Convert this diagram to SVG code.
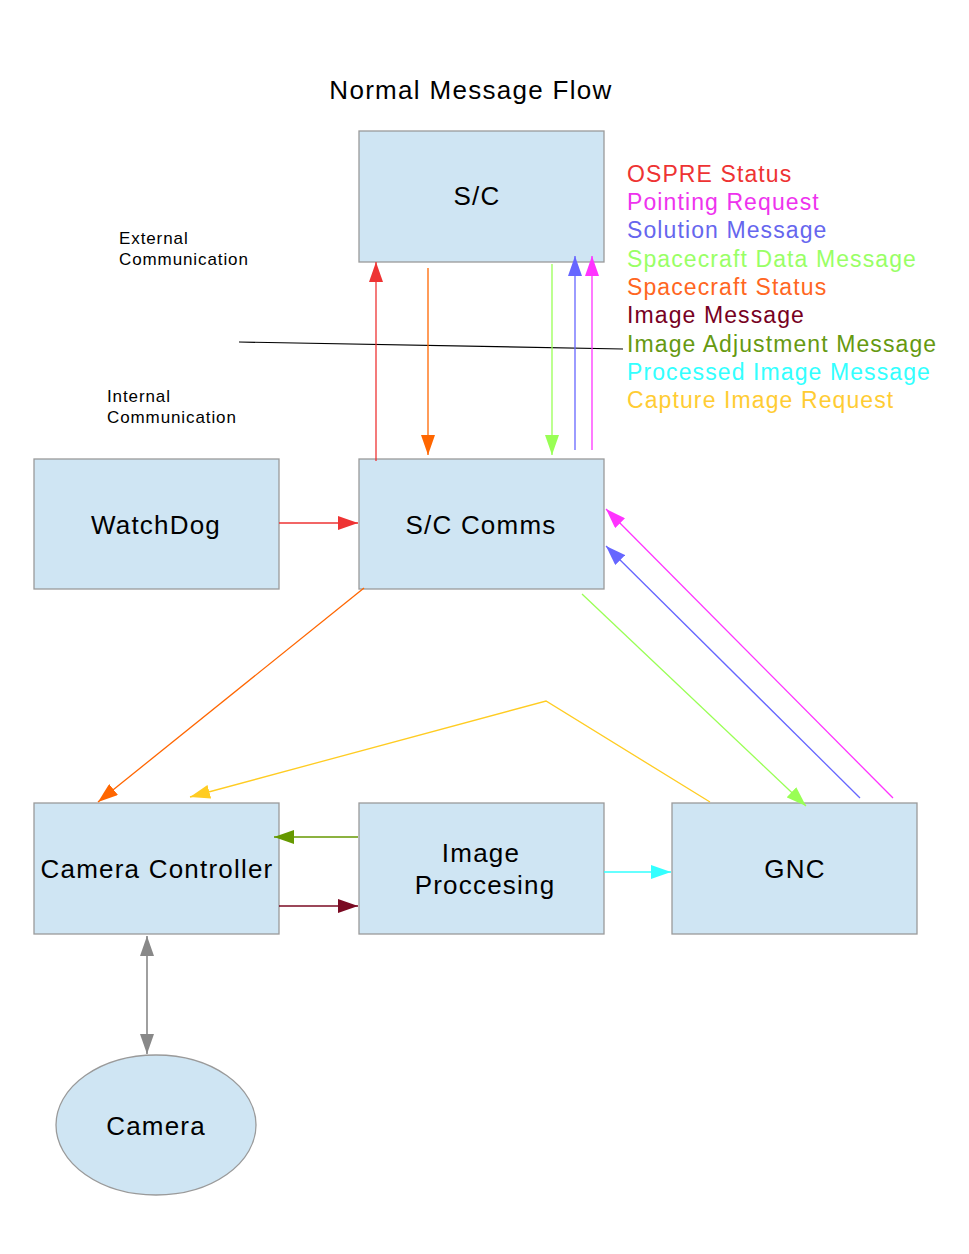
<svg xmlns="http://www.w3.org/2000/svg" width="969" height="1254" viewBox="0 0 969 1254">
<style>
text{font-family:"Liberation Sans",Arial,sans-serif;}
.box{fill:#cfe5f3;stroke:#9a9a9a;stroke-width:1.3;}
.lbl{font-size:26px;fill:#000;text-anchor:middle;letter-spacing:1.2px;}
.leg{font-size:23px;letter-spacing:1.1px;}
.note{font-size:17px;fill:#000;letter-spacing:0.9px;}
.c{fill:none;stroke-width:1.3;}
</style>
<defs>
<marker id="aRed" viewBox="0 0 20 14" refX="20" refY="7" markerWidth="20" markerHeight="14" markerUnits="userSpaceOnUse" orient="auto"><path d="M0,0L20,7L0,14z" fill="#ee3333"/></marker>
<marker id="aOr" viewBox="0 0 20 14" refX="20" refY="7" markerWidth="20" markerHeight="14" markerUnits="userSpaceOnUse" orient="auto"><path d="M0,0L20,7L0,14z" fill="#ff6600"/></marker>
<marker id="aLg" viewBox="0 0 20 14" refX="20" refY="7" markerWidth="20" markerHeight="14" markerUnits="userSpaceOnUse" orient="auto"><path d="M0,0L20,7L0,14z" fill="#99ff55"/></marker>
<marker id="aBl" viewBox="0 0 20 14" refX="20" refY="7" markerWidth="20" markerHeight="14" markerUnits="userSpaceOnUse" orient="auto"><path d="M0,0L20,7L0,14z" fill="#6666ff"/></marker>
<marker id="aMg" viewBox="0 0 20 14" refX="20" refY="7" markerWidth="20" markerHeight="14" markerUnits="userSpaceOnUse" orient="auto"><path d="M0,0L20,7L0,14z" fill="#ff33ff"/></marker>
<marker id="aYe" viewBox="0 0 20 14" refX="20" refY="7" markerWidth="20" markerHeight="14" markerUnits="userSpaceOnUse" orient="auto"><path d="M0,0L20,7L0,14z" fill="#ffcc22"/></marker>
<marker id="aDg" viewBox="0 0 20 14" refX="20" refY="7" markerWidth="20" markerHeight="14" markerUnits="userSpaceOnUse" orient="auto"><path d="M0,0L20,7L0,14z" fill="#669900"/></marker>
<marker id="aDr" viewBox="0 0 20 14" refX="20" refY="7" markerWidth="20" markerHeight="14" markerUnits="userSpaceOnUse" orient="auto"><path d="M0,0L20,7L0,14z" fill="#7a0a22"/></marker>
<marker id="aCy" viewBox="0 0 20 14" refX="20" refY="7" markerWidth="20" markerHeight="14" markerUnits="userSpaceOnUse" orient="auto"><path d="M0,0L20,7L0,14z" fill="#33ffff"/></marker>
<marker id="aGy" viewBox="0 0 20 14" refX="20" refY="7" markerWidth="20" markerHeight="14" markerUnits="userSpaceOnUse" orient="auto"><path d="M0,0L20,7L0,14z" fill="#888888"/></marker>
<marker id="aGyS" viewBox="0 0 20 14" refX="0" refY="7" markerWidth="20" markerHeight="14" markerUnits="userSpaceOnUse" orient="auto"><path d="M20,0L0,7L20,14z" fill="#888888"/></marker>
</defs>

<text x="471" y="99" font-size="26" text-anchor="middle" fill="#000" letter-spacing="1.3">Normal Message Flow</text>

<g id="legend" class="leg">
<text x="627" y="182" fill="#ee3333">OSPRE Status</text>
<text x="627" y="210" fill="#ee33ee">Pointing Request</text>
<text x="627" y="238" fill="#6666ee">Solution Message</text>
<text x="627" y="267" fill="#99ff66">Spacecraft Data Message</text>
<text x="627" y="295" fill="#ff6622">Spacecraft Status</text>
<text x="627" y="323" fill="#770022">Image Message</text>
<text x="627" y="352" fill="#669911">Image Adjustment Message</text>
<text x="627" y="380" fill="#33ffff">Processed Image Message</text>
<text x="627" y="408" fill="#ffcc33">Capture Image Request</text>
</g>

<g id="notes" class="note">
<text x="119" y="244">External</text>
<text x="119" y="265">Communication</text>
<text x="107" y="402">Internal</text>
<text x="107" y="423">Communication</text>
</g>
<line id="boundary" x1="239" y1="342" x2="623" y2="349" stroke="#000" stroke-width="1.2"/>

<g id="node-sc"><rect class="box" x="359" y="131" width="245" height="131"/><text class="lbl" x="477" y="205">S/C</text></g>
<g id="node-watchdog"><rect class="box" x="34" y="459" width="245" height="130"/><text class="lbl" x="156" y="534">WatchDog</text></g>
<g id="node-sccomms"><rect class="box" x="359" y="459" width="245" height="130"/><text class="lbl" x="481" y="534">S/C Comms</text></g>
<g id="node-camctrl"><rect class="box" x="34" y="803" width="245" height="131"/><text class="lbl" x="157" y="878">Camera Controller</text></g>
<g id="node-imgproc"><rect class="box" x="359" y="803" width="245" height="131"/><text class="lbl" x="481" y="862">Image</text><text class="lbl" x="485" y="894">Proccesing</text></g>
<g id="node-gnc"><rect class="box" x="672" y="803" width="245" height="131"/><text class="lbl" x="795" y="878">GNC</text></g>
<g id="node-camera"><ellipse class="box" cx="156" cy="1125" rx="100" ry="70"/><text class="lbl" x="156" y="1135">Camera</text></g>

<g id="connectors" class="c">
<line x1="376" y1="461" x2="376" y2="262" stroke="#ee3333" marker-end="url(#aRed)"/>
<line x1="428" y1="268" x2="428" y2="455" stroke="#ff6600" marker-end="url(#aOr)"/>
<line x1="552" y1="264" x2="552" y2="455" stroke="#99ff55" marker-end="url(#aLg)"/>
<line x1="575" y1="450" x2="575" y2="256" stroke="#6666ff" marker-end="url(#aBl)"/>
<line x1="592" y1="450" x2="592" y2="256" stroke="#ff33ff" marker-end="url(#aMg)"/>
<line x1="279" y1="523" x2="358" y2="523" stroke="#ee3333" marker-end="url(#aRed)"/>
<line x1="364" y1="588" x2="98" y2="802" stroke="#ff6600" marker-end="url(#aOr)"/>
<line x1="582" y1="594" x2="806" y2="806" stroke="#99ff55" marker-end="url(#aLg)"/>
<line x1="860" y1="798" x2="606" y2="546" stroke="#6666ff" marker-end="url(#aBl)"/>
<line x1="893" y1="798" x2="606" y2="509" stroke="#ff33ff" marker-end="url(#aMg)"/>
<polyline points="710,802 546,701 190,797" stroke="#ffcc22" marker-end="url(#aYe)"/>
<line x1="358" y1="837" x2="274" y2="837" stroke="#669900" marker-end="url(#aDg)"/>
<line x1="279" y1="906" x2="358" y2="906" stroke="#7a0a22" marker-end="url(#aDr)"/>
<line x1="604" y1="872" x2="671" y2="872" stroke="#33ffff" marker-end="url(#aCy)"/>
<line x1="147" y1="936" x2="147" y2="1054" stroke="#888888" stroke-width="1.6" marker-start="url(#aGyS)" marker-end="url(#aGy)"/>
</g>
</svg>
